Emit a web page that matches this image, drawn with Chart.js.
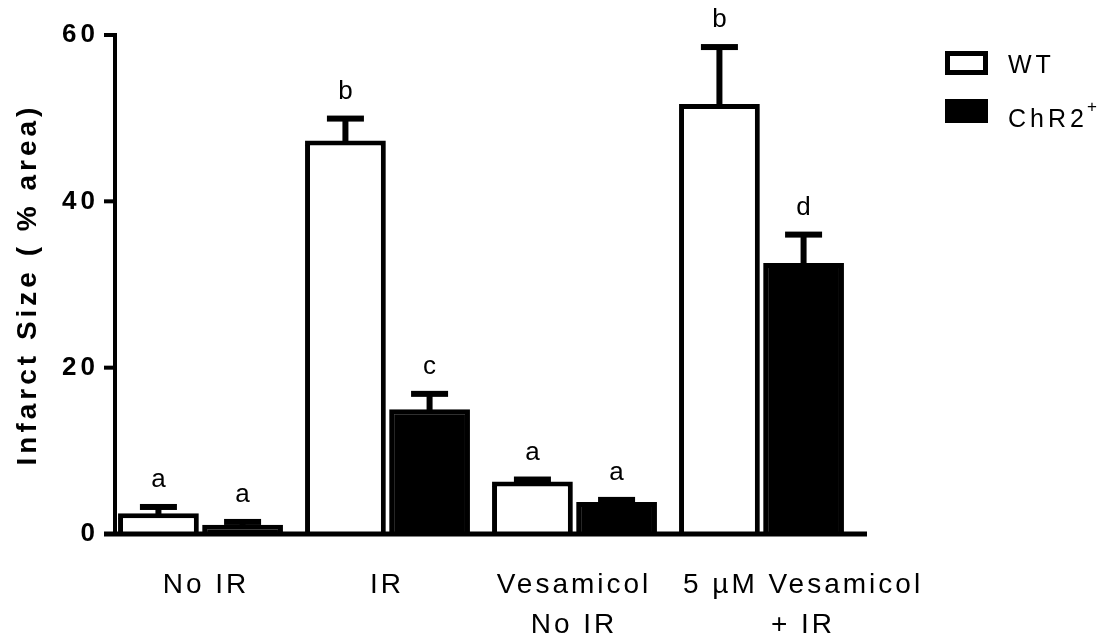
<!DOCTYPE html>
<html><head><meta charset="utf-8">
<script src="https://cdn.jsdelivr.net/npm/chart.js@4.4.1/dist/chart.umd.min.js"></script>
<style>html,body{margin:0;padding:0;background:#fff}#wrap{width:1101px;height:638px;position:relative}</style>
</head><body><div id="wrap"><canvas id="c"></canvas></div>
<script>
// ---- data ----
const categories = [['No IR'], ['IR'], ['Vesamicol', 'No IR'], ['5 µM Vesamicol', '+ IR']];
const seriesNames = ['WT', 'ChR2'];
const wtValues = [2.5, 47.3, 6.3, 51.7];
const wtErrors = [0.75, 2.65, 0.25, 6.85];
const chrValues = [1.1, 15.0, 3.85, 32.6];
const chrErrors = [0.35, 1.85, 0.25, 3.4];
const wtLetters = ['a', 'b', 'a', 'b'];
const chrLetters = ['a', 'c', 'a', 'd'];
const yTicks = [0, 20, 40, 60];

// ---- layout / style (not data) ----
const FONT = '"Liberation Sans", Arial, sans-serif';
const labelShift = [4, -2, -2, 40];
const errs = [wtErrors, chrErrors];
const letters = [wtLetters, chrLetters];

const decor = {
  id: 'decor',
  beforeDraw(chart) { chart.ctx.letterSpacing = '4px'; },
  afterDatasetsDraw(chart) {
    const ctx = chart.ctx, y = chart.scales.y, x = chart.scales.x;
    ctx.save();
    ctx.letterSpacing = '0px';
    ctx.fillStyle = '#000';
    chart.data.datasets.forEach((ds, d) => {
      const meta = chart.getDatasetMeta(d);
      meta.data.forEach((el, i) => {
        const yTop = y.getPixelForValue(ds.data[i] + errs[d][i]);
        const cx = el.x;
        ctx.fillRect(cx - 3, yTop, 6, Math.max(0, el.y - yTop + 2));
        ctx.fillRect(cx - 18.5, yTop - 3, 37, 6);
      });
    });
    const y0 = y.getPixelForValue(0);
    const yMax = y.getPixelForValue(yTicks[yTicks.length - 1]);
    const axisX = y.right + 8;
    ctx.fillRect(axisX - 2, yMax - 2, 4, y0 - yMax + 2);
    yTicks.forEach(v => {
      const py = y.getPixelForValue(v);
      ctx.fillRect(axisX - 11, py - 2, 11, 4);
    });
    ctx.fillRect(x.left - 3, y0 - 2.5, x.right - x.left + 15, 5);
    ctx.restore();
  },
  afterDraw(chart) {
    const ctx = chart.ctx, y = chart.scales.y, x = chart.scales.x;
    ctx.save();
    ctx.fillStyle = '#000';
    ctx.textBaseline = 'alphabetic';
    ctx.letterSpacing = '0px';
    ctx.font = '26px ' + FONT;
    ctx.textAlign = 'center';
    chart.data.datasets.forEach((ds, d) => {
      const meta = chart.getDatasetMeta(d);
      meta.data.forEach((el, i) => {
        const yTop = y.getPixelForValue(ds.data[i] + errs[d][i]);
        ctx.fillText(letters[d][i], el.x, yTop - 3 - 17);
      });
    });
    const sp = 3;
    ctx.letterSpacing = sp + 'px';
    ctx.font = '28px ' + FONT;
    chart.data.labels.forEach((lab, i) => {
      const cx = x.getPixelForValue(i) + labelShift[i] + sp / 2;
      lab.forEach((line, k) => {
        ctx.fillText(line, cx, 593 + k * 40);
      });
    });
    const lx = 945, bw = 43, bh = 24;
    const rows = [51, 99];
    ctx.textAlign = 'left';
    chart.data.datasets.forEach((ds, d) => {
      const by = rows[d];
      ctx.fillStyle = ds.borderColor;
      ctx.fillRect(lx, by, bw, bh);
      ctx.fillStyle = ds.backgroundColor;
      ctx.fillRect(lx + 5, by + 5, bw - 10, bh - 10);
      ctx.fillStyle = '#000';
      ctx.letterSpacing = '4px';
      ctx.font = '25px ' + FONT;
      ctx.fillText(ds.label, 1008, by + 22 + (d === 1 ? 6 : 0));
      if (d === 1) {
        const w = ctx.measureText(ds.label).width;
        ctx.letterSpacing = '0px';
        ctx.font = '17px ' + FONT;
        ctx.fillText('+', 1008 + w - 1, by + 13);
      }
    });
    ctx.restore();
  }
};

new Chart(document.getElementById('c'), {
  type: 'bar',
  data: {
    labels: categories,
    datasets: [
      { label: seriesNames[0], data: wtValues, backgroundColor: '#ffffff', borderColor: '#000000', borderWidth: 5 },
      { label: seriesNames[1], data: chrValues, backgroundColor: '#000000', borderColor: '#000000', borderWidth: 5 }
    ]
  },
  options: {
    responsive: true,
    maintainAspectRatio: false,
    animation: false,
    categoryPercentage: 0.9,
    barPercentage: 0.96,
    layout: { padding: { top: 35, bottom: 104, right: 246, left: 0 } },
    plugins: { legend: { display: false }, tooltip: { enabled: false } },
    scales: {
      x: { display: false, grid: { display: false } },
      y: {
        min: 0, max: 60,
        afterFit(s) { s.width = 107; },
        afterBuildTicks(s) { s.ticks = yTicks.map(v => ({ value: v })); },
        grid: { display: false, drawTicks: false },
        border: { display: false },
        ticks: { color: '#000', padding: 8, font: { family: FONT, size: 26, weight: 'bold' } },
        title: { display: true, text: 'Infarct Size ( % area)', color: '#000', padding: { top: 11, bottom: 0 },
                 font: { family: FONT, size: 28, weight: 'bold' } }
      }
    }
  },
  plugins: [decor]
});
</script></body></html>
